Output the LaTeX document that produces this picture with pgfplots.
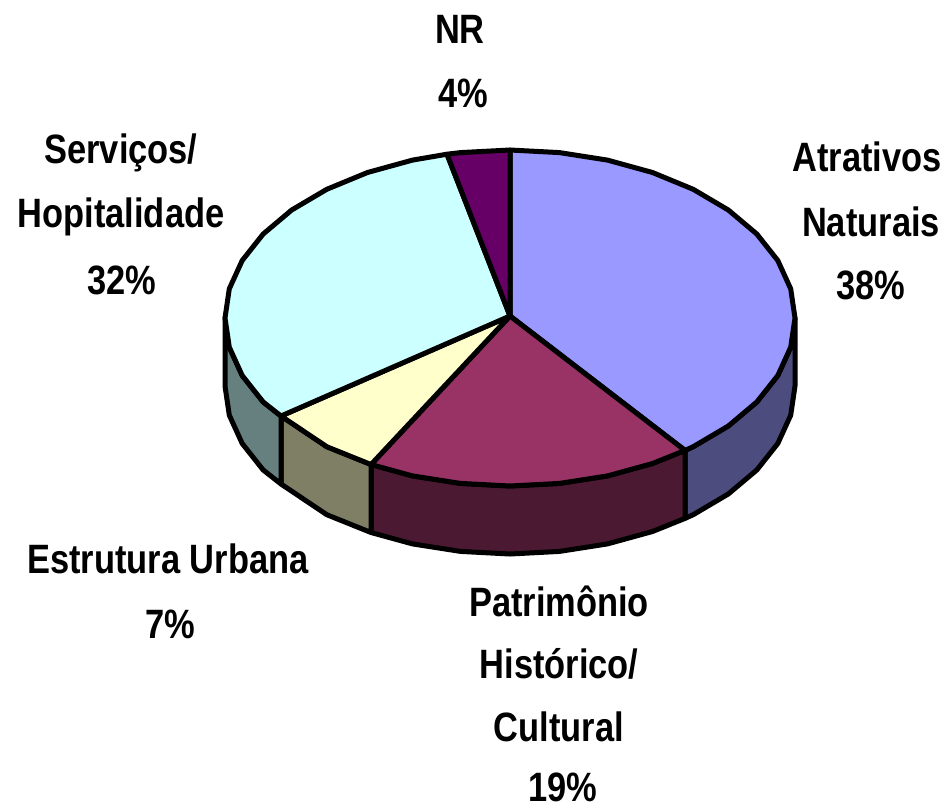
\documentclass[border=0pt]{standalone}
\usepackage{fontspec}
\setmainfont[FakeStretch=0.84]{Liberation Sans}
\usepackage{pgfplots}
\pgfplotsset{compat=1.18}
\definecolor{c1}{HTML}{9999FF}\definecolor{c2}{HTML}{993366}\definecolor{c3}{HTML}{FFFFCC}\definecolor{c4}{HTML}{CCFFFF}\definecolor{c5}{HTML}{660066}
\definecolor{d1}{HTML}{4C4C7F}\definecolor{d2}{HTML}{4C1933}\definecolor{d3}{HTML}{7F7F66}\definecolor{d4}{HTML}{667F7F}
\tikzset{lab/.style={font=\fontsize{41}{41}\selectfont\bfseries,anchor=center,inner sep=0pt}}
\begin{document}
\begin{tikzpicture}[x=1pt,y=1pt]
\begin{axis}[scale only axis,width=946pt,height=807pt,xmin=0,xmax=946,ymin=0,ymax=807,y dir=reverse,axis lines=none,clip=false]
\pgfplotsset{every axis plot/.append style={line width=5pt,line join=round}}
% side walls
\addplot[fill=d1,draw=black] coordinates {(795,318)(790.7,347.2)(777.8,375.5)(756.8,402)(728.3,426)(693.2,446.7)(685,450.4)(685,518.4)(693.2,514.7)(728.3,494)(756.8,470)(777.8,443.5)(790.7,415.2)(795,386)} --cycle;
\addplot[fill=d2,draw=black] coordinates {(685,450.4)(652.5,463.5)(607.5,475.9)(559.5,483.4)(510,486)(460.5,483.4)(412.5,475.9)(371,464.5)(371,532.5)(412.5,543.9)(460.5,551.4)(510,554)(559.5,551.4)(607.5,543.9)(652.5,531.5)(685,518.4)} --cycle;
\addplot[fill=d3,draw=black] coordinates {(371,464.5)(326.8,446.7)(281,416)(281,484)(326.8,514.7)(371,532.5)} --cycle;
\addplot[fill=d4,draw=black] coordinates {(281,416)(263.2,402)(242.2,375.5)(229.3,347.2)(225,318)(225,386)(229.3,415.2)(242.2,443.5)(263.2,470)(281,484)} --cycle;
% top slices
\addplot[fill=c1,draw=black] coordinates {(510,316)(510,150)(559.5,152.6)(607.5,160.1)(652.5,172.5)(693.2,189.3)(728.3,210)(756.8,234)(777.8,260.5)(790.7,288.8)(795,318)(790.7,347.2)(777.8,375.5)(756.8,402)(728.3,426)(693.2,446.7)(685,450.4)} --cycle;
\addplot[fill=c2,draw=black] coordinates {(510,316)(685,450.4)(652.5,463.5)(607.5,475.9)(559.5,483.4)(510,486)(460.5,483.4)(412.5,475.9)(371,464.5)} --cycle;
\addplot[fill=c3,draw=black] coordinates {(510,316)(371,464.5)(326.8,446.7)(281,416)} --cycle;
\addplot[fill=c4,draw=black] coordinates {(510,316)(281,416)(263.2,402)(242.2,375.5)(229.3,347.2)(225,318)(229.3,288.8)(242.2,260.5)(263.2,234)(291.7,210)(326.8,189.3)(367.5,172.5)(412.5,160.1)(447,154.2)} --cycle;
\addplot[fill=c5,draw=black] coordinates {(510,316)(447,154.2)(460.5,152.6)(510,150)} --cycle;
\node[lab] at (axis cs:460,29) {NR};
\node[lab] at (axis cs:463,93) {4\%};
\node[lab] at (axis cs:867,157) {Atrativos};
\node[lab] at (axis cs:871,222) {Naturais};
\node[lab] at (axis cs:871,285) {38\%};
\node[lab] at (axis cs:121,153) {Serviços/};
\node[lab] at (axis cs:121,217) {Hopitalidade};
\node[lab] at (axis cs:122,280) {32\%};
\node[lab] at (axis cs:168,559) {Estrutura Urbana};
\node[lab] at (axis cs:170,624) {7\%};
\node[lab] at (axis cs:559,601) {Patrimônio};
\node[lab] at (axis cs:559,664) {Histórico/};
\node[lab] at (axis cs:559,727) {Cultural};
\node[lab] at (axis cs:563,787) {19\%};
\path[use as bounding box] (axis cs:0,0) rectangle (axis cs:946,807);
\end{axis}
\end{tikzpicture}
\end{document}
